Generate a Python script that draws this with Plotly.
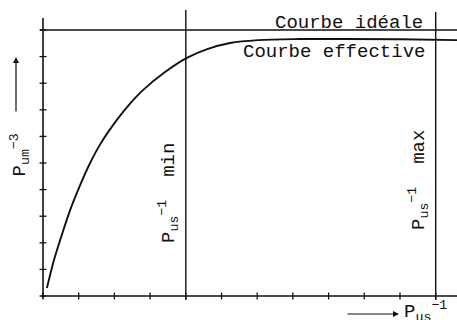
import plotly.graph_objects as go

# Effective response curve (P_um^-3 versus P_us^-1), read in tick units
eff_x = [0.11, 0.30, 0.48, 0.76, 1.04, 1.32, 1.60, 2.07, 2.45, 2.80, 3.40, 4.03, 4.60, 5.24, 6.02, 7.20, 8.50, 10.00, 11.60]
eff_y = [0.30, 1.32, 2.10, 3.23, 4.17, 5.00, 5.70, 6.62, 7.25, 7.74, 8.40, 8.95, 9.28, 9.51, 9.62, 9.66, 9.66, 9.65, 9.62]

# Ideal response level and the limits of the working range
ideal_level = 10.0
p_min = 4.0
p_max = 11.0

# Axis tick positions
x_ticks = list(range(0, 12))
y_ticks = list(range(0, 11))

# Axis extents (data units)
x_axis_span = [-0.06, 11.60]
y_axis_span = [-0.08, 10.45]

FONT = "Liberation Mono, Courier New, monospace"
INK = "#111111"
NBSP = "\u00a0"

fig = go.Figure()

# axes drawn as plain lines
fig.add_trace(go.Scatter(x=x_axis_span, y=[0, 0], mode="lines",
                         line=dict(color=INK, width=1.6), hoverinfo="skip"))
fig.add_trace(go.Scatter(x=[0, 0], y=y_axis_span, mode="lines",
                         line=dict(color=INK, width=1.6), hoverinfo="skip"))

# tick marks crossing the axes
fig.add_trace(go.Scatter(x=x_ticks, y=[0] * len(x_ticks), mode="markers",
                         marker=dict(symbol="line-ns", size=5,
                                     line=dict(color=INK, width=1.3)),
                         hoverinfo="skip"))
fig.add_trace(go.Scatter(x=[0] * len(y_ticks), y=y_ticks, mode="markers",
                         marker=dict(symbol="line-ew", size=5,
                                     line=dict(color=INK, width=1.3)),
                         hoverinfo="skip"))

# ideal curve
fig.add_trace(go.Scatter(x=[-0.08, 11.60], y=[ideal_level, ideal_level], mode="lines",
                         line=dict(color=INK, width=1.4), hoverinfo="skip"))

# min / max verticals
fig.add_trace(go.Scatter(x=[p_min, p_min], y=[-0.15, 10.75], mode="lines",
                         line=dict(color=INK, width=1.4), hoverinfo="skip"))
fig.add_trace(go.Scatter(x=[p_max, p_max], y=[-0.15, 10.68], mode="lines",
                         line=dict(color=INK, width=1.4), hoverinfo="skip"))

# effective curve
fig.add_trace(go.Scatter(x=eff_x, y=eff_y, mode="lines",
                         line=dict(color=INK, width=1.9, shape="spline", smoothing=1.0),
                         hoverinfo="skip"))

font = dict(family=FONT, size=19, color=INK)

annotations = [
    dict(x=6.44, y=10.27, text="Courbe idéale", xanchor="left", yanchor="middle",
         showarrow=False, font=font),
    dict(x=5.55, y=9.17, text="Courbe effective", xanchor="left", yanchor="middle",
         showarrow=False, font=font),
    dict(x=(168 - 43) / 35.7, y=(296 - 245) / 26.6,
         text="P<sub>us</sub><sup>−1</sup> " + NBSP + "min", textangle=-90,
         xanchor="center", yanchor="bottom", showarrow=False, font=font),
    dict(x=(418 - 43) / 35.7, y=(296 - 232) / 26.6,
         text="P<sub>us</sub><sup>−1</sup> " + NBSP + "max", textangle=-90,
         xanchor="center", yanchor="bottom", showarrow=False, font=font),
    dict(x=(20 - 43) / 35.7, y=(296 - 179) / 26.6,
         text="P<sub>um</sub><sup>−3</sup>", textangle=-90,
         xanchor="center", yanchor="bottom", showarrow=False, font=font),
    dict(x=(402 - 43) / 35.7, y=(296 - 311) / 26.6,
         text="P<sub>us</sub><sup>−1</sup>",
         xanchor="left", yanchor="middle", showarrow=False, font=font),
    # direction arrows
    dict(x=(16 - 43) / 35.7, y=(296 - 57) / 26.6, ax=(16 - 43) / 35.7, ay=(296 - 113) / 26.6,
         xref="x", yref="y", axref="x", ayref="y", text="", showarrow=True,
         arrowhead=2, arrowsize=1, arrowwidth=1.2, arrowcolor=INK),
    dict(x=(399 - 43) / 35.7, y=(296 - 314) / 26.6, ax=(346 - 43) / 35.7, ay=(296 - 314) / 26.6,
         xref="x", yref="y", axref="x", ayref="y", text="", showarrow=True,
         arrowhead=2, arrowsize=1, arrowwidth=1.2, arrowcolor=INK),
]

fig.update_layout(
    width=457, height=320,
    margin=dict(l=0, r=0, t=0, b=0),
    paper_bgcolor="white", plot_bgcolor="white",
    showlegend=False,
    annotations=annotations,
    xaxis=dict(range=[-43 / 35.7, 414 / 35.7], visible=False, fixedrange=True),
    yaxis=dict(range=[-24 / 26.6, 296 / 26.6], visible=False, fixedrange=True),
)

fig.write_html("out.html", config={"displayModeBar": False})
